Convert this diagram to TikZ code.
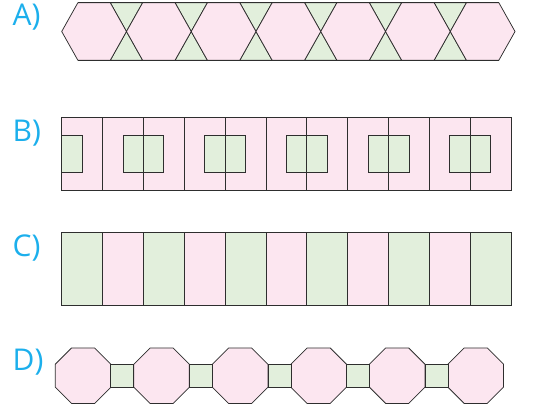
\documentclass[tikz,border=0pt]{standalone}
\usepackage{fontspec}
\setmainfont{Open Sans}
\usepackage{xcolor}
\usetikzlibrary{positioning}

\definecolor{tilepink}{HTML}{FCE6F0}
\definecolor{tilegreen}{HTML}{E2EFDC}
\definecolor{edgegray}{HTML}{2E2E2E}
\definecolor{labelblue}{HTML}{1CAFEC}

\begin{document}
\begin{tikzpicture}[
  x=1pt, y=-1pt,
  edge/.style={draw=edgegray, line width=0.75pt, line join=miter},
  pinktile/.style={edge, fill=tilepink},
  greentile/.style={edge, fill=tilegreen},
  lbl/.style={font=\fontsize{30}{30}\selectfont, text=labelblue, anchor=base west, inner sep=0pt}
]
\useasboundingbox (0,0) rectangle (537,411);

% labels
\node[lbl] (labA) at (12.5,26) {A)};
\node[lbl] (labB) at (12.5,142) {B)};
\node[lbl] (labC) at (12.5,257) {C)};
\node[lbl] (labD) at (12.5,370.5) {D)};

% A) hexagons with green triangles
\def\hs{32.38}
\def\hx{61.7}
\def\hmid{31.5}
\def\htop{2.7}
\def\hbot{60.3}
\foreach \i in {0,...,5} {
  \pgfmathsetmacro{\hc}{\hx+\hs+2*\hs*\i}
  \filldraw[greentile] (\hc+0.5*\hs,\htop) -- (\hc+\hs,\hmid) -- (\hc+1.5*\hs,\htop) -- cycle;
  \filldraw[greentile] (\hc+0.5*\hs,\hbot) -- (\hc+\hs,\hmid) -- (\hc+1.5*\hs,\hbot) -- cycle;
}
\foreach \i in {0,...,6} {
  \pgfmathsetmacro{\hc}{\hx+\hs+2*\hs*\i}
  \filldraw[pinktile] (\hc-\hs,\hmid) -- (\hc-0.5*\hs,\htop) -- (\hc+0.5*\hs,\htop)
    -- (\hc+\hs,\hmid) -- (\hc+0.5*\hs,\hbot) -- (\hc-0.5*\hs,\hbot) -- cycle;
}
\draw[edge] (\hx+0.5*\hs,\htop) -- (\hx+13.5*\hs,\htop);
\draw[edge] (\hx+0.5*\hs,\hbot) -- (\hx+13.5*\hs,\hbot);

% B) frames with green squares
\def\bx{61.7}
\def\cw{40.85}
\fill[tilepink] (\bx,117.3) rectangle (\bx+11*\cw,190);
\filldraw[greentile] (\bx,135.3) -- (\bx+20.4,135.3) -- (\bx+20.4,172) -- (\bx,172);
\foreach \k in {1,...,5}
  \filldraw[greentile] (\bx+2*\cw*\k-20.4,135.3) rectangle (\bx+2*\cw*\k+20.4,172);
\foreach \j in {1,...,10}
  \draw[edge] (\bx+\cw*\j,117.3) -- (\bx+\cw*\j,190);
\draw[edge] (\bx,117.3) rectangle (\bx+11*\cw,190);

% C) stripes
\foreach \j in {0,...,10} {
  \pgfmathsetmacro{\stripe}{ifthenelse(mod(\j,2)==0,"tilegreen","tilepink")}
  \filldraw[edge, fill=\stripe] (\bx+\cw*\j,232.7) rectangle (\bx+\cw*\j+\cw,305.3);
}

% D) octagons and squares
\def\oa{23}
\def\ow{55.53}
\def\oy{375.7}
\foreach \k in {0,...,5} {
  \pgfmathsetmacro{\ox}{55.3+0.5*\ow+\k*(\ow+\oa)}
  \filldraw[pinktile] (\ox-0.5*\ow,\oy-0.5*\oa) -- (\ox-0.5*\oa,\oy-0.5*\ow) -- (\ox+0.5*\oa,\oy-0.5*\ow)
    -- (\ox+0.5*\ow,\oy-0.5*\oa) -- (\ox+0.5*\ow,\oy+0.5*\oa) -- (\ox+0.5*\oa,\oy+0.5*\ow)
    -- (\ox-0.5*\oa,\oy+0.5*\ow) -- (\ox-0.5*\ow,\oy+0.5*\oa) -- cycle;
}
\foreach \k in {0,...,4} {
  \pgfmathsetmacro{\sx}{55.3+\ow+\k*(\ow+\oa)}
  \filldraw[greentile] (\sx,\oy-0.5*\oa) rectangle (\sx+\oa,\oy+0.5*\oa);
}
\end{tikzpicture}
\end{document}
